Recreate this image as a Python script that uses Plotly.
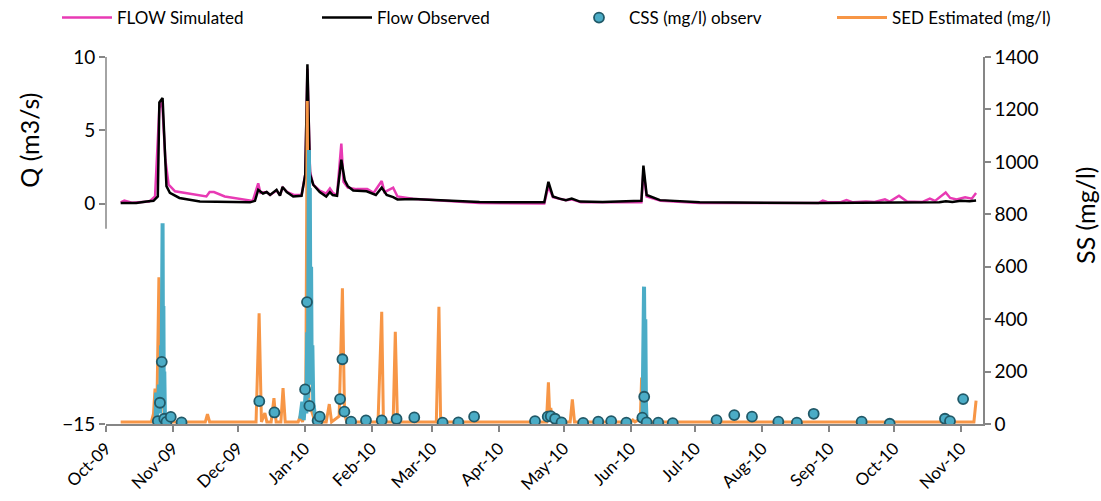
import plotly.graph_objects as go

# ---------------- data ----------------
obs_dates = ['2009-10-07 19:00', '2009-10-10', '2009-10-15', '2009-10-19 19:00', '2009-10-23', '2009-10-25',
             '2009-10-25 17:00', '2009-10-27 05:00', '2009-10-29', '2009-10-30 14:00', '2009-11-04',
             '2009-11-13 12:00', '2009-12-06 17:00', '2009-12-09', '2009-12-10 12:00', '2009-12-12 17:00',
             '2009-12-14 10:00', '2009-12-16', '2009-12-19', '2009-12-20 14:00', '2009-12-21 19:00',
             '2009-12-23 17:00', '2009-12-26 17:00', '2009-12-30 14:00', '2010-01-01 07:00', '2010-01-02 07:00',
             '2010-01-03 12:00', '2010-01-05', '2010-01-08', '2010-01-11', '2010-01-12 17:00', '2010-01-14',
             '2010-01-16', '2010-01-18', '2010-01-19 14:00', '2010-01-21', '2010-01-23 12:00',
             '2010-01-29 17:00', '2010-02-03', '2010-02-05 17:00', '2010-02-08', '2010-02-11', '2010-02-13',
             '2010-02-20', '2010-03-05 17:00', '2010-03-23', '2010-04-01 12:00', '2010-04-22',
             '2010-04-23 22:00', '2010-04-26', '2010-04-29', '2010-05-02', '2010-05-04 17:00',
             '2010-05-08 12:00', '2010-05-19', '2010-06-06', '2010-06-06 22:00', '2010-06-08 10:00',
             '2010-06-14 14:00', '2010-07-03', '2010-08-27', '2010-10-16', '2010-10-22', '2010-10-25',
             '2010-10-28', '2010-11-01', '2010-11-05', '2010-11-08']
flow_observed = [0.05, 0.04, 0.05, 0.15, 0.2, 0.5,
                 6.9, 7.2, 1.2, 0.75, 0.4,
                 0.16, 0.1, 0.2, 0.95, 0.7,
                 0.8, 0.6, 0.95, 0.55, 1.15,
                 0.8, 0.5, 0.55, 2.0, 9.5,
                 2.0, 1.3, 0.8, 0.5, 0.8, 0.6,
                 0.55, 3.0, 1.6, 1.2, 0.9,
                 0.85, 0.6, 1.1, 0.6, 0.45, 0.3,
                 0.32, 0.22, 0.12, 0.1, 0.1,
                 1.5, 0.5, 0.35, 0.25, 0.35,
                 0.15, 0.12, 0.2, 2.6, 0.6,
                 0.25, 0.1, 0.05, 0.06, 0.1, 0.18,
                 0.12, 0.2, 0.18, 0.22]

sim_dates = ['2009-10-07 19:00', '2009-10-09 12:00', '2009-10-13', '2009-10-21', '2009-10-23 17:00',
             '2009-10-25 17:00', '2009-10-27', '2009-10-28 12:00', '2009-10-30', '2009-11-02',
             '2009-11-16 12:00', '2009-11-18', '2009-11-20', '2009-11-25', '2009-12-08', '2009-12-10 12:00',
             '2009-12-11 12:00', '2009-12-14 10:00', '2009-12-16', '2009-12-19', '2009-12-20 14:00',
             '2009-12-21 19:00', '2009-12-24', '2009-12-27', '2009-12-30 14:00', '2010-01-01 07:00',
             '2010-01-02 07:00', '2010-01-03 12:00', '2010-01-05', '2010-01-08', '2010-01-11',
             '2010-01-12 17:00', '2010-01-14', '2010-01-16', '2010-01-18', '2010-01-19', '2010-01-21',
             '2010-01-25', '2010-01-30', '2010-02-02', '2010-02-05 17:00', '2010-02-07', '2010-02-11',
             '2010-02-13', '2010-02-20', '2010-03-06', '2010-03-23', '2010-04-22', '2010-04-23 22:00',
             '2010-04-26', '2010-05-02', '2010-05-04 17:00', '2010-05-09', '2010-06-06', '2010-06-06 22:00',
             '2010-06-08 10:00', '2010-06-15', '2010-07-03', '2010-08-27', '2010-08-29', '2010-08-31',
             '2010-09-06', '2010-09-09', '2010-09-12', '2010-09-18', '2010-09-22', '2010-09-26 19:00',
             '2010-09-29', '2010-10-03 07:00', '2010-10-07', '2010-10-14', '2010-10-17 14:00', '2010-10-20',
             '2010-10-24 22:00', '2010-10-27', '2010-10-30', '2010-11-02 22:00', '2010-11-06', '2010-11-08']
flow_simulated = [0.1, 0.22, 0.08, 0.15, 0.5,
                  6.5, 7.0, 3.0, 1.3, 0.85,
                  0.5, 0.8, 0.8, 0.5, 0.2, 1.4,
                  0.75, 0.8, 0.6, 0.9, 0.6,
                  1.1, 0.8, 0.6, 0.6, 2.0,
                  9.2, 2.2, 1.3, 0.9, 0.7,
                  1.05, 0.75, 0.6, 4.1, 1.5, 1.1,
                  1.0, 1.0, 0.75, 1.55, 0.8, 1.1,
                  0.5, 0.35, 0.2, 0.05, 0.02, 1.2,
                  0.45, 0.25, 0.3, 0.1, 0.1, 2.2,
                  0.5, 0.2, 0.05, 0.05, 0.22, 0.12,
                  0.1, 0.25, 0.1, 0.15, 0.12, 0.3,
                  0.15, 0.55, 0.15, 0.12, 0.35, 0.2,
                  0.77, 0.4, 0.3, 0.45, 0.35, 0.73]

sed_dates = ['2009-10-07 19:00', '2009-10-22', '2009-10-23', '2009-10-23 17:00', '2009-10-24 07:00',
             '2009-10-24 12:00', '2009-10-25 12:00', '2009-10-26 12:00', '2009-10-28', '2009-10-29',
             '2009-11-16', '2009-11-17', '2009-11-18', '2009-12-09 12:00', '2009-12-10 22:00', '2009-12-12',
             '2009-12-13 14:00', '2009-12-14 12:00', '2009-12-16 12:00', '2009-12-17 19:00',
             '2009-12-18 19:00', '2009-12-21', '2009-12-22', '2009-12-23', '2009-12-29', '2009-12-30',
             '2009-12-31', '2010-01-01 12:00', '2010-01-02 05:00', '2010-01-03', '2010-01-05', '2010-01-06',
             '2010-01-11', '2010-01-12 10:00', '2010-01-13 12:00', '2010-01-17', '2010-01-18 12:00',
             '2010-01-19 12:00', '2010-01-20 12:00', '2010-02-04', '2010-02-05 17:00', '2010-02-06 12:00',
             '2010-02-11', '2010-02-12', '2010-02-13', '2010-03-03', '2010-03-04 05:00', '2010-03-05',
             '2010-04-23', '2010-04-23 22:00', '2010-04-24 12:00', '2010-04-25', '2010-04-26', '2010-05-04',
             '2010-05-05', '2010-05-06', '2010-06-01', '2010-06-02', '2010-06-03', '2010-06-05 12:00',
             '2010-06-06 02:00', '2010-06-07', '2010-06-08', '2010-11-07', '2010-11-08']
sed_estimated = [8, 8, 40, 135, 60,
                 20, 560, 200, 30, 8,
                 8, 38, 8, 8, 422, 8,
                 42, 8, 8, 99,
                 8, 8, 137, 8, 8, 30,
                 8, 60, 1232, 80, 30, 8,
                 8, 76, 8, 30, 518,
                 40, 8, 8, 428, 8,
                 8, 352, 8, 8, 447, 8,
                 8, 159, 40, 61, 8, 8,
                 94, 8, 8, 15, 8, 20,
                 177, 60, 8, 8, 89]

# high-frequency observed concentration during events (same colour as CSS, not in legend)
css_hf_dates = ['2009-10-24', '2009-10-24 05:00', '2009-10-24 12:00', '2009-10-25', '2009-10-25 12:00',
                '2009-10-26', '2009-10-26 12:00', '2009-10-26 17:00', '2009-10-27', '2009-10-27 05:00',
                '2009-10-27 10:00', '2009-10-27 14:00', '2009-10-27 19:00', '2009-10-28', '2009-10-28 07:00',
                '2009-10-28 14:00', '2009-11-01',
                '2009-12-29 22:00', '2009-12-30 22:00', '2009-12-31 14:00', '2010-01-01 12:00',
                '2010-01-01 19:00', '2010-01-02 05:00', '2010-01-02 12:00', '2010-01-02 19:00', '2010-01-03',
                '2010-01-03 05:00', '2010-01-03 10:00', '2010-01-03 17:00', '2010-01-04', '2010-01-04 07:00',
                '2010-01-04 14:00', '2010-01-05', '2010-01-05 12:00', '2010-01-06', '2010-01-10',
                '2010-06-06 12:00', '2010-06-06 22:00', '2010-06-07 05:00', '2010-06-07 12:00',
                '2010-06-07 19:00', '2010-06-08 02:00', '2010-06-08 10:00']
css_hf = [10, 120, 20, 60, 150,
          40, 300, 100, 500, 766,
          200, 450, 60, 200, 30,
          10, None,
          20, 85, 15, 120,
          40, 350, 100, 700, 1045,
          500, 900, 250, 600, 150,
          300, 80, 50, 20, None,
          20, 300, 524, 200,
          400, 80, 10]

css_dates = ['2009-10-25', '2009-10-26', '2009-10-26 20:00', '2009-10-28', '2009-10-29', '2009-10-31',
             '2009-11-05', '2009-12-11', '2009-12-18', '2010-01-01 05:00', '2010-01-02 02:00',
             '2010-01-03 05:00', '2010-01-07', '2010-01-08', '2010-01-17 10:00', '2010-01-18 12:00',
             '2010-01-19 10:00', '2010-01-22 12:00', '2010-01-29 10:00', '2010-02-05 17:00',
             '2010-02-12 14:00', '2010-02-20 19:00', '2010-03-05 22:00', '2010-03-13 05:00',
             '2010-03-20 12:00', '2010-04-17 17:00', '2010-04-23 14:00', '2010-04-25', '2010-04-27',
             '2010-04-30', '2010-05-10', '2010-05-17', '2010-05-23', '2010-05-30', '2010-06-06 10:00',
             '2010-06-07 07:00', '2010-06-08 10:00', '2010-06-13 19:00', '2010-06-20 12:00',
             '2010-07-10 19:00', '2010-07-19', '2010-07-27 05:00', '2010-08-08 10:00', '2010-08-17',
             '2010-08-24 19:00', '2010-09-16', '2010-09-29', '2010-10-24 14:00', '2010-10-26 22:00',
             '2010-11-02']
css_observed = [11, 81, 237, 20, 8, 27,
                6, 87, 44, 132, 465,
                69, 13, 28, 95, 247,
                47, 9, 14, 14,
                19, 25, 5, 6,
                28, 11, 28, 30, 20,
                6, 4, 9, 11, 5, 24,
                104, 6, 5, 3,
                15, 34, 28, 9, 5,
                39, 9, 1, 20, 11,
                95]

month_ticks = ['2009-10-01', '2009-11-01', '2009-12-01', '2010-01-01', '2010-02-01', '2010-03-01',
               '2010-04-01', '2010-05-01', '2010-06-01', '2010-07-01', '2010-08-01', '2010-09-01',
               '2010-10-01', '2010-11-01']
month_labels = ['Oct-09', 'Nov-09', 'Dec-09', 'Jan-10', 'Feb-10', 'Mar-10', 'Apr-10', 'May-10',
                'Jun-10', 'Jul-10', 'Aug-10', 'Sep-10', 'Oct-10', 'Nov-10']
q_ticks = [-15, 0, 5, 10]
ss_ticks = [0, 200, 400, 600, 800, 1000, 1200, 1400]

# ---------------- figure ----------------
FONT = 'Lato'
PINK = '#E83AB4'
ORANGE = '#F79646'
TEAL = '#4BACC6'
AXIS = '#868686'

fig = go.Figure()
fig.add_trace(go.Scatter(x=sim_dates, y=flow_simulated, name='FLOW Simulated', mode='lines',
                         line=dict(color=PINK, width=2.5), legend='legend'))
fig.add_trace(go.Scatter(x=obs_dates, y=flow_observed, name='Flow Observed', mode='lines',
                         line=dict(color='black', width=2.5), legend='legend2'))
fig.add_trace(go.Scatter(x=sed_dates, y=sed_estimated, name='SED Estimated (mg/l)', mode='lines',
                         line=dict(color=ORANGE, width=3), yaxis='y2', legend='legend4'))
fig.add_trace(go.Scatter(x=css_hf_dates, y=css_hf, mode='lines', showlegend=False, connectgaps=False,
                         line=dict(color=TEAL, width=4), yaxis='y2', hoverinfo='skip'))
fig.add_trace(go.Scatter(x=css_dates, y=css_observed, name='CSS (mg/l) observ', mode='markers',
                         marker=dict(color=TEAL, size=10, line=dict(color='#215968', width=1.8)),
                         yaxis='y2', legend='legend3'))


def leg(xpx):
    return dict(orientation='h', xref='container', yref='container', x=xpx / 1101, y=1.0,
                xanchor='left', yanchor='top', font=dict(size=17), itemwidth=50,
                bgcolor='rgba(0,0,0,0)', visible=True)


fig.update_layout(
    width=1101, height=501,
    margin=dict(l=106, r=118, t=57, b=77, autoexpand=False),
    paper_bgcolor='white', plot_bgcolor='white',
    font=dict(family=FONT, size=18, color='black'),
    showlegend=True,
    legend=leg(57), legend2=leg(317), legend3=leg(569), legend4=leg(832),
    xaxis=dict(range=['2009-10-01', '2010-11-11 05:00'], tickvals=month_ticks, ticktext=month_labels,
               tickangle=-45, ticks='outside', ticklen=6, tickcolor=AXIS, tickwidth=1.5,
               showline=True, linecolor=AXIS, linewidth=1.5, showgrid=False, zeroline=False,
               tickfont=dict(size=17)),
    yaxis=dict(range=[-15, 10], tickvals=q_ticks, ticks='outside', ticklen=6, tickcolor=AXIS, tickwidth=1.5,
               showline=False, showgrid=False, zeroline=False, tickfont=dict(size=19)),
    yaxis2=dict(range=[0, 1400], tickvals=ss_ticks, overlaying='y', side='right', ticks='outside',
                ticklen=6, tickcolor=AXIS, tickwidth=1.5, showline=True, linecolor=AXIS, linewidth=1.5,
                showgrid=False, zeroline=False, tickfont=dict(size=19)),
    shapes=[dict(type='line', xref='paper', yref='y', x0=0, x1=0, y0=-1.7, y1=10,
                 line=dict(color=AXIS, width=1.5), layer='above')],
    annotations=[
        dict(text='Q (m3/s)', xref='paper', yref='paper', x=-0.088, y=0.774, textangle=-90,
             showarrow=False, font=dict(size=25), xanchor='center', yanchor='middle'),
        dict(text='SS (mg/l)', xref='paper', yref='paper', x=1.116, y=0.569, textangle=-90,
             showarrow=False, font=dict(size=25), xanchor='center', yanchor='middle'),
    ],
)

fig.write_html('out.html')
